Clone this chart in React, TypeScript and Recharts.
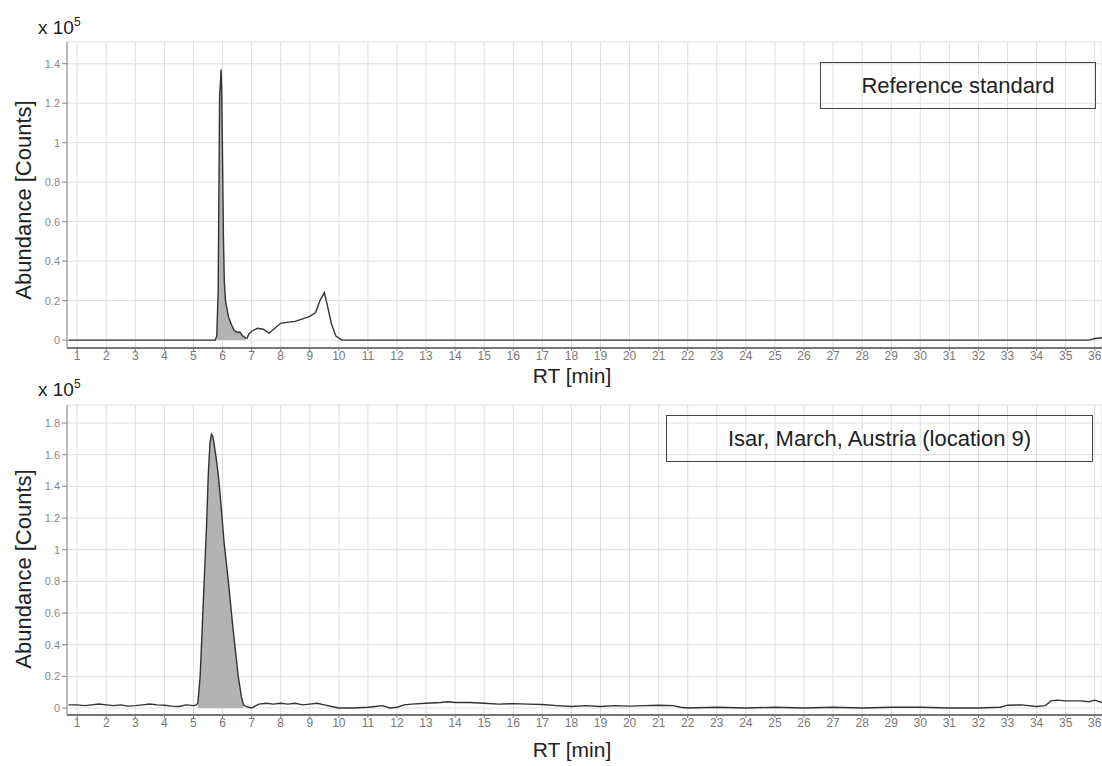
import { ComposedChart, Line, Area, XAxis, YAxis, CartesianGrid } from 'recharts';

// retention time ticks, minutes
const rtTicks = [
  1, 2, 3, 4, 5, 6, 7, 8, 9, 10, 11, 12, 13, 14, 15, 16, 17, 18,
  19, 20, 21, 22, 23, 24, 25, 26, 27, 28, 29, 30, 31, 32, 33, 34, 35, 36,
];

// reference standard trace (abundance x 10^5)
const refTime = [
  0.7, 5.75, 5.8, 5.85, 5.88, 5.9, 5.92, 5.95, 5.97, 5.99, 6.01, 6.03, 6.06, 6.1,
  6.2, 6.3, 6.4, 6.5, 6.6, 6.7, 6.8, 6.85, 6.9, 7.0, 7.2, 7.4, 7.6, 7.8, 8.0, 8.2,
  8.5, 8.8, 9.0, 9.2, 9.35, 9.5, 9.6, 9.75, 9.9, 10.1, 35.8, 36.0, 36.25,
];
const refAbund = [
  0, 0, 0.02, 0.25, 0.85, 1.25, 1.28, 1.37, 1.27, 1.05, 0.8, 0.53, 0.3, 0.2,
  0.12, 0.08, 0.05, 0.04, 0.04, 0.02, 0.01, 0.01, 0.03, 0.045, 0.06, 0.055, 0.035, 0.06, 0.085, 0.09,
  0.095, 0.11, 0.12, 0.14, 0.2, 0.24, 0.18, 0.08, 0.02, 0, 0, 0.008, 0.012,
];
const refTicks = [0, 0.2, 0.4, 0.6, 0.8, 1, 1.2, 1.4];

// river sample trace (abundance x 10^5)
const sampleTime = [
  0.7, 1.0, 1.25, 1.5, 1.75, 2.0, 2.25, 2.5, 2.75, 3.0, 3.25, 3.5, 3.75, 4.0, 4.25,
  4.5, 4.75, 5.0, 5.1, 5.15, 5.23, 5.3, 5.37, 5.45, 5.51, 5.57, 5.62, 5.66, 5.7, 5.78,
  5.86, 5.95, 6.05, 6.2, 6.35, 6.54, 6.65, 6.72, 6.8, 6.9, 7.0, 7.1, 7.25, 7.5, 7.75,
  8.0, 8.25, 8.5, 8.75, 9.0, 9.25, 9.5, 9.75, 10.0, 10.5, 11.0, 11.25, 11.5, 11.75, 12.0,
  12.25, 12.5, 13.0, 13.5, 13.75, 14.0, 14.5, 15.0, 15.5, 16.0, 16.5, 17.0, 17.5, 18.0, 18.5,
  19.0, 19.5, 20.0, 20.5, 21.0, 21.5, 21.75, 22.0, 23.0, 24.0, 25.0, 26.0, 27.0, 28.0, 29.0,
  30.0, 31.0, 32.0, 32.75, 33.0, 33.5, 34.0, 34.3, 34.5, 34.7, 35.0, 35.5, 35.8, 36.0, 36.25,
];
const sampleAbund = [
  0.02, 0.02, 0.015, 0.02, 0.025, 0.02, 0.015, 0.02, 0.012, 0.015, 0.02, 0.025, 0.02, 0.018, 0.012,
  0.01, 0.02, 0.015, 0.02, 0.03, 0.2, 0.5, 0.81, 1.15, 1.48, 1.68, 1.73, 1.72, 1.68, 1.58,
  1.46, 1.28, 1.05, 0.8, 0.52, 0.2, 0.07, 0.02, 0.01, 0.005, 0, 0.01, 0.025, 0.03, 0.025,
  0.03, 0.025, 0.03, 0.02, 0.025, 0.03, 0.02, 0.01, 0, 0, 0.005, 0.01, 0.015, 0, 0.005,
  0.02, 0.025, 0.03, 0.035, 0.04, 0.035, 0.035, 0.03, 0.025, 0.028, 0.025, 0.022, 0.015, 0.01, 0.015,
  0.01, 0.015, 0.012, 0.015, 0.018, 0.015, 0.005, 0, 0.005, 0, 0.005, 0, 0.005, 0, 0.005,
  0.005, 0, 0, 0.005, 0.018, 0.02, 0.01, 0.015, 0.045, 0.05, 0.045, 0.045, 0.04, 0.05, 0.035,
];
const sampleTicks = [0, 0.2, 0.4, 0.6, 0.8, 1, 1.2, 1.4, 1.6, 1.8];

const FONT = '"Liberation Sans", Arial, sans-serif';

type TraceProps = {
  time: number[];
  abundance: number[];
  peakFrom: number;
  peakTo: number;
  yTicks: number[];
  yDomain: [number, number];
  top: number;
  height: number;
  marginTop: number;
  marginBottom: number;
};

const fmt = (v: number) => (v === 0 ? '0' : v === 1 ? '1' : String(v));

const Trace = ({ time, abundance, peakFrom, peakTo, yTicks, yDomain, top, height, marginTop, marginBottom }: TraceProps) => {
  const rows = time.map((t, i) => ({
    t,
    v: abundance[i],
    peak: t >= peakFrom && t <= peakTo ? abundance[i] : null,
  }));
  return (
    <div style={{ position: 'absolute', left: 0, top }}>
      <ComposedChart
        width={1102}
        height={height}
        data={rows}
        margin={{ top: marginTop, right: 0, left: 0, bottom: marginBottom }}
      >
        <CartesianGrid stroke="#dedede" />
        <XAxis
          type="number"
          dataKey="t"
          domain={[0.65, 36.25]}
          ticks={rtTicks}
          interval={0}
          allowDataOverflow
          height={32}
          tickSize={3}
          tickMargin={0}
          tick={{ fontSize: 12, fill: '#777', fontFamily: FONT }}
          tickLine={{ stroke: '#777' }}
          axisLine={{ stroke: '#777', strokeWidth: 2 }}
        />
        <YAxis
          type="number"
          domain={yDomain}
          ticks={yTicks}
          interval={0}
          allowDataOverflow
          width={67}
          tickSize={5}
          tickMargin={2}
          tickFormatter={fmt}
          tick={{ fontSize: 11, fill: '#888', fontFamily: FONT }}
          tickLine={{ stroke: '#888' }}
          axisLine={{ stroke: '#888' }}
        />
        <Area
          type="linear"
          dataKey="peak"
          baseValue={0}
          fill="#b3b3b3"
          fillOpacity={1}
          stroke="none"
          connectNulls={false}
          isAnimationActive={false}
        />
        <Line
          type="linear"
          dataKey="v"
          stroke="#333"
          strokeWidth={1.4}
          dot={false}
          isAnimationActive={false}
        />
      </ComposedChart>
    </div>
  );
};

const text = { position: 'absolute' as const, fontFamily: FONT, color: '#222', whiteSpace: 'nowrap' as const };

const Scale = ({ top }: { top: number }) => (
  <div style={{ ...text, left: 38, top, fontSize: 19, lineHeight: '20px' }}>
    x 10<span style={{ fontSize: 12, position: 'relative', top: -8 }}>5</span>
  </div>
);

const YTitle = ({ cy }: { cy: number }) => (
  <div
    style={{
      ...text,
      left: 24,
      top: cy,
      fontSize: 22,
      transform: 'translate(-50%, -50%) rotate(-90deg)',
    }}
  >
    Abundance [Counts]
  </div>
);

const XTitle = ({ cy }: { cy: number }) => (
  <div style={{ ...text, left: 572, top: cy, fontSize: 21, lineHeight: '22px', transform: 'translate(-50%, -50%)' }}>
    RT [min]
  </div>
);

const Tag = ({ label, left, top, width, height }: { label: string; left: number; top: number; width: number; height: number }) => (
  <div
    style={{
      ...text,
      left,
      top,
      width,
      height,
      border: '1px solid #444',
      boxSizing: 'border-box',
      display: 'flex',
      alignItems: 'center',
      justifyContent: 'center',
      fontSize: 22,
    }}
  >
    {label}
  </div>
);

export default function App() {
  return (
    <div style={{ position: 'absolute', left: 0, top: 0, width: 1102, height: 766, background: '#fff', overflow: 'hidden' }}>
      <Trace
        time={refTime}
        abundance={refAbund}
        peakFrom={5.8}
        peakTo={6.8}
        yTicks={refTicks}
        yDomain={[-0.04, 1.51]}
        top={0}
        height={380}
        marginTop={42}
        marginBottom={0}
      />
      <Trace
        time={sampleTime}
        abundance={sampleAbund}
        peakFrom={5.15}
        peakTo={6.75}
        yTicks={sampleTicks}
        yDomain={[-0.044, 1.914]}
        top={380}
        height={386}
        marginTop={25}
        marginBottom={19}
      />
      <Scale top={18} />
      <Scale top={380} />
      <YTitle cy={200} />
      <YTitle cy={569} />
      <XTitle cy={376} />
      <XTitle cy={750} />
      <Tag label="Reference standard" left={820} top={62} width={276} height={47} />
      <Tag label="Isar, March, Austria (location 9)" left={666} top={415} width={427} height={47} />
    </div>
  );
}
